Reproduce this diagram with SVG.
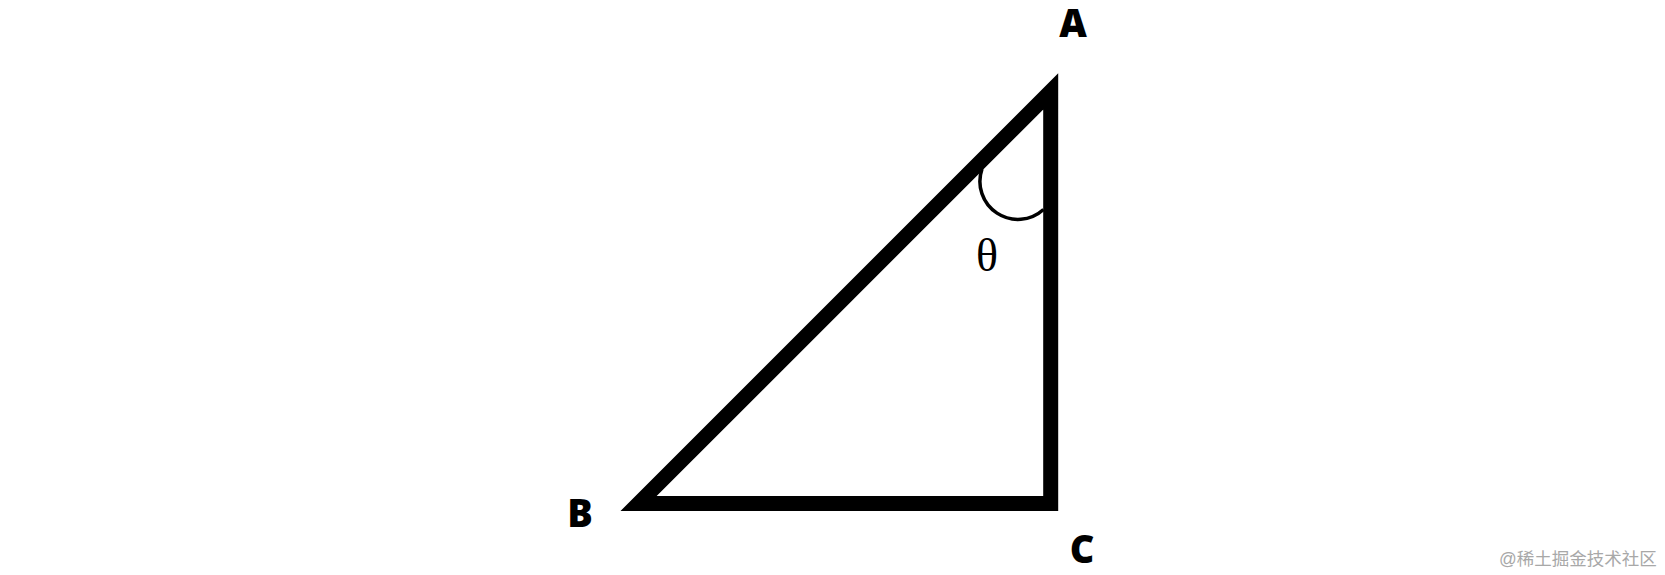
<svg xmlns="http://www.w3.org/2000/svg" width="1665" height="575" viewBox="0 0 1665 575">
<style>
.lbl{font-family:"Open Sans","Noto Sans","Liberation Sans",sans-serif;font-weight:800;font-size:38px;fill:#000;text-anchor:middle}
.theta{font-family:"Liberation Serif","DejaVu Serif",serif;font-size:46px;fill:#000;text-anchor:middle}
.wm{font-family:"Liberation Sans","Noto Sans CJK SC",sans-serif;font-size:17.5px;fill:#a8a8a8}
</style>
<rect width="1665" height="575" fill="#fff"/>
<g id="triangle">
<polygon points="1050.7,91.4 1050.7,503.5 638.6,503.5" fill="none" stroke="#000" stroke-width="15" stroke-linejoin="miter" stroke-miterlimit="10"/>
</g>
<g id="angle">
<path d="M 982 169 A 38 38 0 0 0 1043.5 209.5" fill="none" stroke="#000" stroke-width="3.5"/>
<text class="theta" x="987" y="271">θ</text>
</g>
<g id="node-A"><text class="lbl" x="1073" y="37">A</text></g>
<g id="node-B"><text class="lbl" x="580" y="527">B</text></g>
<g id="node-C"><text class="lbl" x="1082" y="563">C</text></g>
<text class="wm" x="1499" y="565">@稀土掘金技术社区</text>
</svg>
